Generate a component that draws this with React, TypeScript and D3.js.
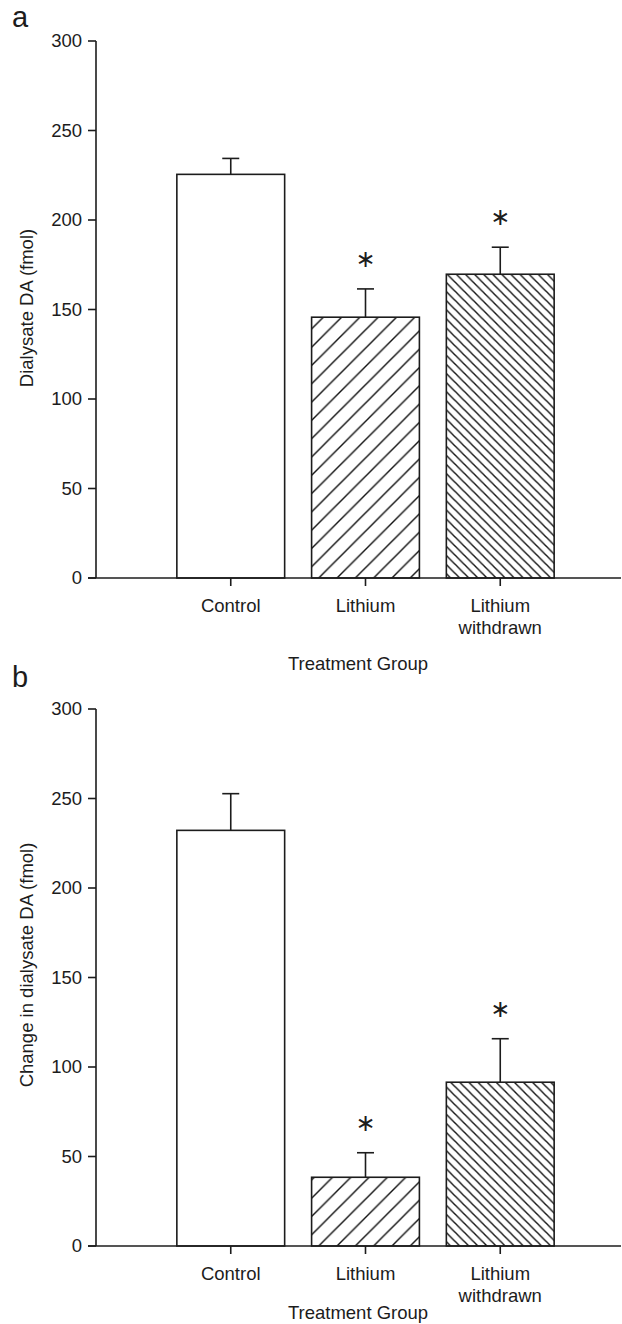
import React from "react";
import * as d3 from "d3";

// values
const groups = ["Control", "Lithium", "Lithium withdrawn"];
const groupLines = [["Control"], ["Lithium"], ["Lithium", "withdrawn"]];
const yTicks = [0, 50, 100, 150, 200, 250, 300];

const meansA = [225.5, 145.7, 169.7];
const semA = [8.9, 15.8, 15.1];
const sigA = [false, true, true];

const meansB = [232.2, 38.4, 91.5];
const semB = [20.5, 13.7, 24.3];
const sigB = [false, true, true];

const fills = ["white", "url(#hatchFwd)", "url(#hatchBack)"];

const ink = "#1c1c1c";
const font = "'Liberation Sans', Arial, Helvetica, sans-serif";
const fs = 18.5;

const x = d3.scaleBand()
  .domain(groups)
  .range([96, 635])
  .paddingInner(0.2)
  .paddingOuter(0.6);

const Panel = ({ dy, letter, letterY, yLabel, yLabelY, means, sem, sig, titleY }) => {
  const y = d3.scaleLinear().domain([0, 300]).range([578, 41]);
  const bw = x.bandwidth();
  return (
    <g transform={`translate(0, ${dy})`}>
      <text x={12} y={letterY} fontSize="29" fill={ink}>{letter}</text>

      {/* bars */}
      {groups.map((g, i) => (
        <rect key={g} x={x(g)} y={y(means[i])} width={bw} height={y(0) - y(means[i])}
          fill={fills[i]} stroke={ink} strokeWidth="1.6" />
      ))}

      {/* error bars (upper only) */}
      {groups.map((g, i) => {
        const cx = x(g) + bw / 2;
        const top = y(means[i] + sem[i]);
        return (
          <g key={g} stroke={ink} strokeWidth="1.6">
            <line x1={cx} x2={cx} y1={y(means[i])} y2={top} />
            <line x1={cx - 8.5} x2={cx + 8.5} y1={top} y2={top} />
          </g>
        );
      })}

      {/* significance marks */}
      {groups.map((g, i) => sig[i]
        ? <text key={g} x={x(g) + bw / 2} y={y(means[i] + sem[i]) - 30} fontSize="24"
            fontFamily="'DejaVu Sans', sans-serif" textAnchor="middle" dominantBaseline="central" fill={ink}>∗</text>
        : null)}

      {/* y axis */}
      <line x1={96} x2={96} y1={y(300)} y2={y(0)} stroke={ink} strokeWidth="1.6" />
      {yTicks.map(t => (
        <g key={t} transform={`translate(0, ${y(t)})`}>
          <line x1={88} x2={96} stroke={ink} strokeWidth="1.6" />
          <text x={82} dy="0.35em" textAnchor="end" fontSize={fs} fill={ink}>{t}</text>
        </g>
      ))}
      <text transform={`translate(33, ${yLabelY}) rotate(-90)`} textAnchor="middle"
        fontSize={fs} fill={ink}>{yLabel}</text>

      {/* x axis */}
      <line x1={88} x2={621} y1={y(0)} y2={y(0)} stroke={ink} strokeWidth="1.6" />
      {groups.map((g, i) => {
        const cx = x(g) + bw / 2;
        return (
          <g key={g}>
            <line x1={cx} x2={cx} y1={y(0)} y2={y(0) + 8} stroke={ink} strokeWidth="1.6" />
            <text x={cx} y={y(0) + 33.5} textAnchor="middle" fontSize={fs} fill={ink}>
              {groupLines[i].map((l, k) => <tspan key={k} x={cx} dy={k === 0 ? 0 : 22.5}>{l}</tspan>)}
            </text>
          </g>
        );
      })}
      <text x={358} y={titleY} textAnchor="middle" fontSize={fs} fill={ink}>Treatment Group</text>
    </g>
  );
};

const App = () => {
  return (
    <svg width={622} height={1324} style={{ position: "absolute", left: 0, top: 0, background: "white" }}
      fontFamily={font}>
      <defs>
        <pattern id="hatchFwd" patternUnits="userSpaceOnUse" width={18.3} height={18.3}>
          <path d="M0,18.3 L18.3,0 M-2,2 L2,-2 M16.3,20.3 L20.3,16.3" stroke="#111" strokeWidth="1.4" />
        </pattern>
        <pattern id="hatchBack" patternUnits="userSpaceOnUse" width={9.1} height={9.1}>
          <path d="M0,0 L9.1,9.1 M-2,7.1 L2,11.1 M7.1,-2 L11.1,2" stroke="#111" strokeWidth="1.4" />
        </pattern>
      </defs>
      <Panel dy={0} letter="a" letterY={27} yLabel="Dialysate DA (fmol)" yLabelY={308}
        means={meansA} sem={semA} sig={sigA} titleY={670} />
      <Panel dy={668} letter="b" letterY={19} yLabel="Change in dialysate DA (fmol)" yLabelY={297}
        means={meansB} sem={semB} sig={sigB} titleY={651} />
    </svg>
  );
};

export default App;
